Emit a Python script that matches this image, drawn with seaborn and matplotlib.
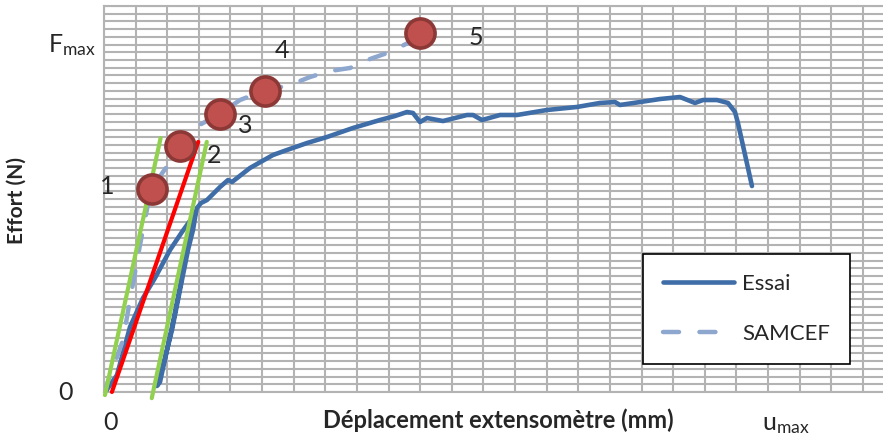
import matplotlib
matplotlib.use('Agg')
import matplotlib.pyplot as plt
import seaborn as sns
import pandas as pd

# Essai curve (grid units: x 0..25, y 0..50), loading / unloading / reloading loop then plateau
essai_x = [0.063, 0.411, 0.822, 1.233, 1.613, 2.087, 2.466, 2.783, 2.909,
           2.814, 2.656, 2.498, 2.340, 2.150, 1.929, 1.676,
           1.771, 1.992, 2.182, 2.403, 2.593, 2.783, 2.941, 3.067,
           3.257, 3.668, 3.921, 4.047, 4.617, 5.344, 5.787, 6.419, 7.051, 7.874,
           8.727, 9.202, 9.581, 9.771, 9.992, 10.213, 10.719, 11.478, 11.668,
           11.953, 12.522, 13.059, 14.008, 14.957, 15.684, 16.158, 16.316,
           16.949, 17.581, 18.213, 18.688, 18.941, 19.383, 19.731, 19.953,
           20.047, 20.490]
essai_y = [0.13, 2.2, 8.42, 12.18, 14.77, 18.39, 20.73, 22.54, 23.32,
           20.98, 18.39, 15.16, 11.92, 8.03, 4.40, 0.78,
           1.30, 5.44, 9.07, 13.60, 18.13, 21.76, 23.83, 24.48,
           24.87, 26.55, 27.46, 27.20, 29.02, 30.70, 31.35, 32.25, 33.03, 34.20,
           35.23, 35.75, 36.27, 36.14, 34.97, 35.49, 35.10, 35.88, 35.88,
           35.23, 35.88, 35.88, 36.53, 36.92, 37.44, 37.56, 37.18,
           37.56, 37.95, 38.21, 37.44, 37.82, 37.82, 37.44, 36.27,
           34.84, 26.68]

samcef_x = [0.0, 0.379, 0.601, 0.822, 1.138, 1.486, 2.403, 2.909, 3.700, 4.300,
            5.028, 5.881, 6.514, 7.146, 7.779, 8.411, 9.043, 9.676, 9.992]
samcef_y = [0.0, 4.15, 6.74, 11.92, 19.04, 26.30, 31.61, 34.33, 36.14, 37.82,
            38.99, 39.77, 40.80, 41.58, 41.97, 43.13, 44.04, 45.34, 46.37]

pts_x = [1.518, 2.403, 3.668, 5.091, 9.992]
pts_y = [26.30, 31.87, 36.01, 38.99, 46.44]
pt_labels = ['1', '2', '3', '4', '5']
lbl_x = [0.095, 3.478, 4.458, 5.618, 11.753]
lbl_y = [26.68, 30.57, 34.46, 44.30, 45.94]

red_x = [0.25, 2.98]
red_y = [0.0, 32.4]
green1_x = [0.03, 1.79]
green1_y = [-0.4, 32.9]
green2_x = [1.51, 3.25]
green2_y = [-0.8, 32.4]

sns.set_style('white')
plt.rcParams['font.family'] = ['Lato', 'DejaVu Sans']

fig = plt.figure(figsize=(8.83, 4.37), dpi=100)
ax = fig.add_axes([104 / 883, 45 / 437, 790.6 / 883, 386 / 437])

essai = pd.DataFrame({'x': essai_x, 'y': essai_y})
samcef = pd.DataFrame({'x': samcef_x, 'y': samcef_y})

sns.lineplot(data=essai, x='x', y='y', sort=False, estimator=None, ax=ax,
             color='#3F6DA8', linewidth=3.3, solid_capstyle='round',
             solid_joinstyle='round', label='Essai', zorder=3)
sns.lineplot(data=samcef, x='x', y='y', sort=False, estimator=None, ax=ax,
             color='#8DA7CF', linewidth=3.2, dash_capstyle='round',
             linestyle=(0, (3.6, 4.6)), label='SAMCEF', zorder=3)

ax.plot(red_x, red_y, color='#FF0000', linewidth=3.0, zorder=4, clip_on=False)
ax.plot(green1_x, green1_y, color='#92D050', linewidth=3.0, zorder=5, clip_on=False)
ax.plot(green2_x, green2_y, color='#92D050', linewidth=3.0, zorder=5, clip_on=False)

sns.scatterplot(x=pts_x, y=pts_y, ax=ax, s=440, color='#C0504D',
                edgecolor='#8C3836', linewidth=2.6, zorder=6, legend=False)
for tx, ty, t in zip(lbl_x, lbl_y, pt_labels):
    ax.text(tx, ty, t, fontsize=18, ha='center', va='center', zorder=7)

ax.set_xlim(0, 25)
ax.set_ylim(0, 50)
ax.set_xticks(range(0, 26))
ax.set_yticks(range(0, 51))
ax.tick_params(length=0, labelbottom=False, labelleft=False)
ax.grid(True, color='#B3B3B3', linewidth=1.5)
for side in ['top', 'left', 'bottom']:
    ax.spines[side].set_color('#B3B3B3')
    ax.spines[side].set_linewidth(1.5)
ax.spines['right'].set_visible(False)

# axis annotations
ax.text(-1.22, 0.0, '0', fontsize=18, ha='center', va='center', clip_on=False)
ax.text(-1.77, 44.04, r'F$\mathregular{_{max}}$', fontsize=18, ha='left',
        va='baseline', clip_on=False)
ax.text(0.22, -3.9, '0', fontsize=18, ha='center', va='center', clip_on=False)
ax.text(20.81, -4.92, r'u$\mathregular{_{max}}$', fontsize=18, ha='left',
        va='baseline', clip_on=False)

ax.set_xlabel('Déplacement extensomètre (mm)', fontsize=17, fontweight='bold')
ax.xaxis.set_label_coords(0.499, -0.072)
ax.xaxis.label.set_va('center')
ax.set_ylabel('Effort (N)', fontsize=15, fontweight='bold')
ax.yaxis.set_label_coords(-0.110, 0.497)
ax.yaxis.label.set_va('center')

leg = ax.legend(loc='lower left', bbox_to_anchor=(643 / 883, 1 - 364 / 437),
                bbox_transform=fig.transFigure, borderaxespad=0, fontsize=16,
                frameon=True, fancybox=False, framealpha=1, edgecolor='black',
                handlelength=3.2, handletextpad=0.35, labelspacing=1.35,
                borderpad=0.9)
leg.get_frame().set_linewidth(1.2)

fig.savefig('out.png', dpi=100)
